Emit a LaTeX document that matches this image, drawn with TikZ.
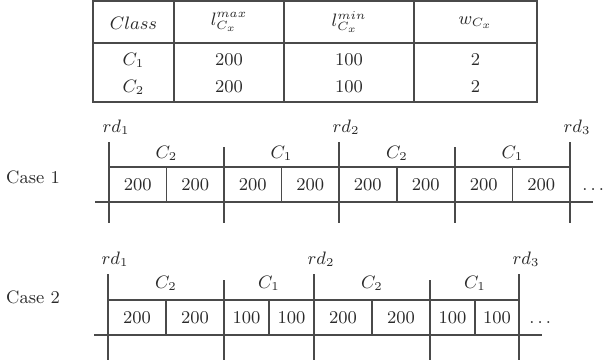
\documentclass[tikz,border=0pt]{standalone}
\definecolor{linegray}{HTML}{4A4A4A}
\definecolor{textgray}{HTML}{2A2A2A}
\tikzset{
  ln/.style={draw=linegray, line width=0.8pt},
  ax/.style={draw=linegray, line width=1.1pt},
  txt/.style={font=\fontsize{9}{11}\selectfont, text=textgray, inner sep=0pt},
}
\begin{document}
\begin{tikzpicture}[x=0.5pt,y=-0.5pt]
\useasboundingbox (0,0) rectangle (606,360);
% ---------- table ----------
\draw[ln] (93,1) rectangle (537,102);
\foreach \x in {174,284,414} \draw[ln] (\x,1) -- (\x,102);
\draw[ln] (93,43) -- (537,43);
\node[txt] (h1) at (133.5,23) {$Class$};
\node[txt] (h2) at (229,22) {$l^{max}_{C_x}$};
\node[txt] (h3) at (349,22) {$l^{min}_{C_x}$};
\node[txt] (h4) at (475.5,23) {$w_{C_x}$};
\node[txt] (r1a) at (133.5,60) {$C_1$};
\node[txt] (r1b) at (229,60) {200};
\node[txt] (r1c) at (349,60) {100};
\node[txt] (r1d) at (475.5,60) {2};
\node[txt] (r2a) at (133.5,87) {$C_2$};
\node[txt] (r2b) at (229,87) {200};
\node[txt] (r2c) at (349,87) {100};
\node[txt] (r2d) at (475.5,87) {2};
% ---------- Case 1 ----------
\node[txt] (case1) at (33,177) {Case 1};
\coordinate (a1s) at (95,202); \coordinate (a1e) at (593,202);
\draw[ax] (a1s) -- (a1e);
\draw[ln] (109,167) -- (570,167);
\foreach \x/\i in {109/1,339/2,570/3} {
  \draw[ln] (\x,142) -- (\x,223);
  \node[txt] (c1rd\i) at (\x+7,127) {$rd_{\i}$};
}
\foreach \x in {224,455} \draw[ln] (\x,147) -- (\x,223);
\foreach \x in {166.5,281.5,397,512.5} \draw[ln] (\x,167) -- (\x,202);
\foreach \l/\r/\i in {109/166.5/1,166.5/224/2,224/281.5/3,281.5/339/4,339/396.5/5,396.5/455/6,455/512.5/7,512.5/570/8}
  \node[txt] (c1v\i) at ({(\l+\r)/2},185) {200};
\foreach \x/\c/\i in {166.5/2/1,281.5/1/2,397/2/3,512.5/1/4}
  \node[txt] (c1c\i) at (\x,153) {$C_{\c}$};
\node[txt, anchor=base west] (c1dots) at (582,190) {$\dots$};
% ---------- Case 2 ----------
\node[txt] (case2) at (33,297) {Case 2};
\coordinate (a2s) at (94,335); \coordinate (a2e) at (542,335);
\draw[ax] (a2s) -- (a2e);
\draw[ln] (108,300) -- (519,300);
\foreach \x/\i in {108/1,314/2,519/3} {
  \draw[ln] (\x,274) -- (\x,360);
  \node[txt] (c2rd\i) at (\x+7,259) {$rd_{\i}$};
}
\foreach \x in {224,430} \draw[ln] (\x,280) -- (\x,360);
\foreach \x in {166,269,372,475} \draw[ln] (\x,300) -- (\x,335);
\foreach \l/\r/\v/\i in {108/166/200/1,166/224/200/2,224/269/100/3,269/314/100/4,314/372/200/5,372/430/200/6,430/475/100/7,475/519/100/8}
  \node[txt] (c2v\i) at ({(\l+\r)/2},318) {\v};
\foreach \x/\c/\i in {166/2/1,269/1/2,372/2/3,475/1/4}
  \node[txt] (c2c\i) at (\x,283) {$C_{\c}$};
\node[txt, anchor=base west] (c2dots) at (529,323) {$\dots$};
\end{tikzpicture}
\end{document}
